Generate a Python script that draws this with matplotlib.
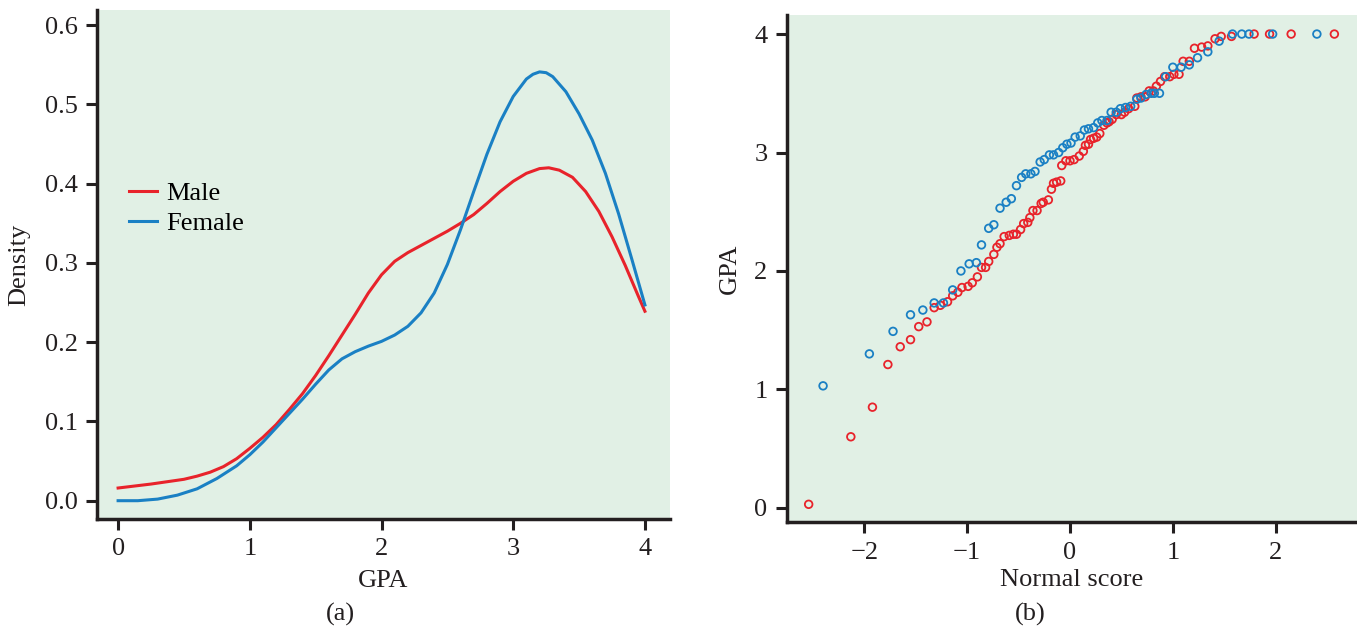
import numpy as np
import matplotlib.pyplot as plt

# (a) density curves
gpa_grid_male = [0.0, 0.25, 0.5, 0.6, 0.7, 0.8, 0.9, 1.0, 1.1, 1.2, 1.3, 1.4, 1.5, 1.6,
                 1.7, 1.8, 1.9, 2.0, 2.1, 2.2, 2.3, 2.4, 2.5, 2.6, 2.7, 2.8, 2.9, 3.0,
                 3.1, 3.2, 3.27, 3.35, 3.45, 3.55, 3.65, 3.75, 3.85, 3.95, 4.0]
density_male = [0.016, 0.021, 0.027, 0.031, 0.036, 0.043, 0.053, 0.066, 0.080, 0.096,
                0.115, 0.135, 0.158, 0.183, 0.209, 0.235, 0.262, 0.285, 0.302, 0.313,
                0.322, 0.331, 0.340, 0.350, 0.361, 0.375, 0.390, 0.403, 0.413, 0.419,
                0.420, 0.417, 0.408, 0.390, 0.365, 0.333, 0.297, 0.258, 0.239]
gpa_grid_female = [0.0, 0.15, 0.3, 0.45, 0.6, 0.75, 0.9, 1.0, 1.1, 1.2, 1.3, 1.4, 1.5,
                   1.6, 1.7, 1.8, 1.9, 2.0, 2.1, 2.2, 2.3, 2.4, 2.5, 2.6, 2.7, 2.8, 2.9,
                   3.0, 3.1, 3.15, 3.2, 3.25, 3.3, 3.4, 3.5, 3.6, 3.7, 3.8, 3.9, 4.0]
density_female = [0.0, 0.0, 0.002, 0.007, 0.015, 0.028, 0.044, 0.058, 0.074, 0.092,
                  0.110, 0.128, 0.147, 0.165, 0.179, 0.188, 0.195, 0.201, 0.209, 0.220,
                  0.237, 0.262, 0.298, 0.342, 0.390, 0.437, 0.478, 0.510, 0.532, 0.538,
                  0.541, 0.540, 0.535, 0.516, 0.488, 0.455, 0.413, 0.362, 0.305, 0.247]

# (b) normal quantile plot points (normal score, GPA)
male_score = [-2.54, -2.13, -1.92, -1.77, -1.65, -1.55, -1.47, -1.39, -1.32, -1.26, -1.19,
              -1.14, -1.09, -1.05, -0.99, -0.95, -0.90, -0.86, -0.82, -0.79, -0.74, -0.71,
              -0.68, -0.64, -0.59, -0.55, -0.52, -0.48, -0.45, -0.41, -0.39, -0.36, -0.32,
              -0.28, -0.26, -0.21, -0.18, -0.16, -0.13, -0.09, -0.08, -0.04, 0.00, 0.04,
              0.09, 0.13, 0.15, 0.18, 0.20, 0.23, 0.26, 0.29, 0.33, 0.36, 0.38, 0.41, 0.45,
              0.50, 0.53, 0.57, 0.63, 0.65, 0.69, 0.73, 0.77, 0.81, 0.84, 0.88, 0.92, 0.97,
              1.01, 1.06, 1.10, 1.16, 1.21, 1.28, 1.34, 1.41, 1.47, 1.57, 1.79, 1.94, 2.15,
              2.57]
male_gpa = [0.03, 0.60, 0.85, 1.21, 1.36, 1.42, 1.53, 1.57, 1.69, 1.71, 1.74, 1.79, 1.82,
            1.86, 1.87, 1.90, 1.95, 2.03, 2.03, 2.08, 2.14, 2.20, 2.23, 2.29, 2.30, 2.31,
            2.31, 2.35, 2.40, 2.41, 2.45, 2.51, 2.51, 2.57, 2.58, 2.60, 2.69, 2.74, 2.75,
            2.76, 2.89, 2.93, 2.93, 2.94, 2.97, 3.01, 3.06, 3.07, 3.11, 3.12, 3.13, 3.16,
            3.23, 3.25, 3.26, 3.28, 3.32, 3.32, 3.34, 3.37, 3.39, 3.46, 3.47, 3.47, 3.52,
            3.52, 3.56, 3.60, 3.64, 3.64, 3.66, 3.66, 3.77, 3.77, 3.88, 3.89, 3.90, 3.96,
            3.98, 3.98, 4.00, 4.00, 4.00, 4.00]
female_score = [-2.40, -1.95, -1.72, -1.55, -1.43, -1.32, -1.23, -1.14, -1.06, -0.98, -0.91,
                -0.86, -0.79, -0.74, -0.68, -0.62, -0.57, -0.52, -0.47, -0.43, -0.38, -0.34,
                -0.29, -0.25, -0.20, -0.16, -0.11, -0.07, -0.03, 0.01, 0.05, 0.10, 0.14,
                0.18, 0.23, 0.27, 0.31, 0.36, 0.40, 0.45, 0.49, 0.54, 0.59, 0.65, 0.69, 0.74,
                0.79, 0.82, 0.87, 0.93, 1.00, 1.08, 1.16, 1.24, 1.34, 1.45, 1.58, 1.67, 1.74,
                1.97, 2.40]
female_gpa = [1.03, 1.30, 1.49, 1.63, 1.67, 1.73, 1.73, 1.84, 2.00, 2.06, 2.07, 2.22, 2.36,
              2.39, 2.53, 2.58, 2.61, 2.72, 2.79, 2.82, 2.82, 2.84, 2.92, 2.94, 2.98, 2.98,
              3.00, 3.04, 3.07, 3.08, 3.13, 3.14, 3.19, 3.20, 3.21, 3.25, 3.27, 3.27, 3.34,
              3.34, 3.37, 3.38, 3.39, 3.45, 3.46, 3.49, 3.50, 3.50, 3.50, 3.64, 3.72, 3.72,
              3.74, 3.80, 3.85, 3.94, 4.00, 4.00, 4.00, 4.00, 4.00]

RED = "#e8232b"
BLUE = "#1a80c4"
BG = "#e1f0e5"
DARK = "#231f20"

plt.rcParams['font.family'] = ['Liberation Serif', 'DejaVu Serif']
plt.rcParams['font.size'] = 19


def style_axes(ax):
    ax.set_facecolor(BG)
    for side in ("top", "right"):
        ax.spines[side].set_visible(False)
    for side in ("left", "bottom"):
        ax.spines[side].set_linewidth(2.5)
        ax.spines[side].set_color(DARK)
    ax.tick_params(direction="out", length=8, width=2.2, color=DARK,
                   labelsize=19, labelcolor=DARK, pad=6)


fig = plt.figure(figsize=(13.57, 6.29), dpi=100)

ax1 = fig.add_axes([0.0715, 0.175, 0.4222, 0.809])
style_axes(ax1)
ax1.plot(gpa_grid_male, density_male, color=RED, lw=2.2, label="Male")
ax1.plot(gpa_grid_female, density_female, color=BLUE, lw=2.2, label="Female")
ax1.set_xlim(-0.16, 4.19)
ax1.set_ylim(-0.023, 0.619)
ax1.set_xticks([0, 1, 2, 3, 4])
ax1.set_yticks([0.0, 0.1, 0.2, 0.3, 0.4, 0.5, 0.6])
ax1.set_yticklabels(["0.0", "0.1", "0.2", "0.3", "0.4", "0.5", "0.6"])
ax1.set_xlabel("GPA", fontsize=19, color=DARK, labelpad=7)
ax1.set_ylabel("Density", fontsize=19, color=DARK, labelpad=10)
ax1.legend(loc="center left", bbox_to_anchor=(0.015, 0.61), frameon=False,
           fontsize=19, handlelength=1.05, handletextpad=0.35, labelspacing=0.25)
fig.text(0.2506, 0.014, "(a)", ha="center", fontsize=19, color=DARK)

ax2 = fig.add_axes([0.58, 0.170, 0.42, 0.806])
style_axes(ax2)
ax2.scatter(male_score, male_gpa, s=30, facecolors="none", edgecolors=RED, linewidths=1.3)
ax2.scatter(female_score, female_gpa, s=30, facecolors="none", edgecolors=BLUE, linewidths=1.3)
ax2.set_xlim(-2.75, 2.79)
ax2.set_ylim(-0.12, 4.16)
ax2.set_xticks([-2, -1, 0, 1, 2])
ax2.set_xticklabels(["\u22122", "\u22121", "0", "1", "2"])
ax2.set_yticks([0, 1, 2, 3, 4])
ax2.set_xlabel("Normal score", fontsize=19, color=DARK, labelpad=4)
ax2.set_ylabel("GPA", fontsize=19, color=DARK, labelpad=10)
fig.text(0.7594, 0.014, "(b)", ha="center", fontsize=19, color=DARK)

fig.savefig("out.png", dpi=100)
